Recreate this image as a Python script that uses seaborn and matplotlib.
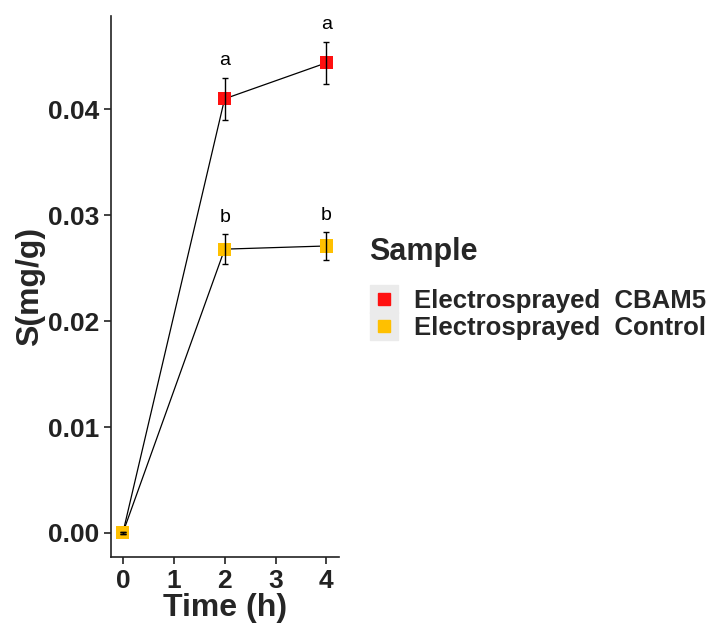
import pandas as pd
import matplotlib
matplotlib.use('Agg')
import matplotlib.pyplot as plt
import seaborn as sns
from matplotlib.lines import Line2D

# Данные
time_h = [0, 2, 4]
samples = ['Electrosprayed  CBAM5', 'Electrosprayed  Control']
s_cbam5 = [0.0, 0.0410, 0.0444]
sd_cbam5 = [0.0001, 0.0020, 0.0020]
s_control = [0.0, 0.0268, 0.0271]
sd_control = [0.0001, 0.0014, 0.0013]
letters_cbam5 = ['', 'a', 'a']
letters_control = ['', 'b', 'b']
colors = ['#FF1010', '#FFC000']

df = pd.DataFrame({
    'Time': time_h * 2,
    'S': s_cbam5 + s_control,
    'sd': sd_cbam5 + sd_control,
    'letter': letters_cbam5 + letters_control,
    'Sample': [samples[0]] * 3 + [samples[1]] * 3,
})

sns.set_theme(style='ticks')
plt.rcParams['font.family'] = ['Liberation Sans', 'DejaVu Sans']
plt.rcParams['font.weight'] = 'bold'

fig = plt.figure(figsize=(7.08, 6.24), dpi=100)
ax = fig.add_axes([0.157, 0.107, 0.322, 0.867])

sns.lineplot(data=df, x='Time', y='S', units='Sample', estimator=None,
             color='black', linewidth=0.9, ax=ax, legend=False)
ax.errorbar(df['Time'], df['S'], yerr=df['sd'], fmt='none', ecolor='black',
            elinewidth=1.0, capsize=2.5, capthick=1.0, zorder=3)
sns.scatterplot(data=df, x='Time', y='S', hue='Sample', palette=colors,
                marker='s', s=90, edgecolor='none', ax=ax, legend=False, zorder=2)

for _, r in df.iterrows():
    if r['letter']:
        ax.text(r['Time'], r['S'] + r['sd'] + 0.0016, r['letter'], ha='center',
                va='center', fontsize=14, fontweight='normal', color='black')

ax.set_xlim(-0.23, 4.25)
ax.set_ylim(-0.0023, 0.0488)
ax.set_xticks([0, 1, 2, 3, 4])
ax.set_yticks([0.0, 0.01, 0.02, 0.03, 0.04])
ax.set_yticklabels(['0.00', '0.01', '0.02', '0.03', '0.04'])
ax.tick_params(labelsize=19, colors='#222222', length=5, width=1.2)
for lab in ax.get_xticklabels() + ax.get_yticklabels():
    lab.set_fontweight('bold')
ax.set_xlabel('Time (h)', fontsize=23, fontweight='bold', labelpad=0)
ax.set_ylabel('S(mg/g)', fontsize=23, fontweight='bold', labelpad=2)
sns.despine(ax=ax)
for sp in ['left', 'bottom']:
    ax.spines[sp].set_linewidth(1.2)
    ax.spines[sp].set_color('#222222')

handles = []
for c in colors:
    bg = Line2D([], [], marker='s', markersize=20, color='#EBEBEB', linestyle='none')
    fg = Line2D([], [], marker='s', markersize=8.5, color=c, linestyle='none')
    handles.append((bg, fg))
fig.text(0.522, 0.596, 'Sample', fontsize=22, fontweight='bold', ha='left', va='center')
leg = fig.legend(handles, samples, loc='upper left',
                 bbox_to_anchor=(0.49, 0.574), frameon=False, fontsize=18.5,
                 handlelength=1.1, handletextpad=0.6,
                 labelspacing=0.1)
for t in leg.get_texts():
    t.set_fontweight('bold')

fig.savefig('out.png', dpi=100)
